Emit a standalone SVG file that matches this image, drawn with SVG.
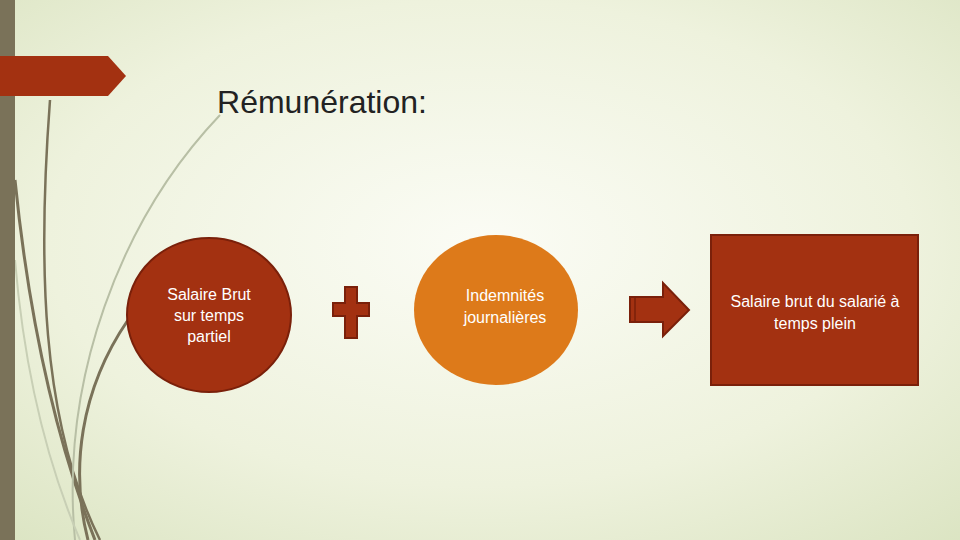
<svg xmlns="http://www.w3.org/2000/svg" width="960" height="540" viewBox="0 0 960 540">
<defs>
<radialGradient id="bg" cx="0.5" cy="0.45" r="0.75">
<stop offset="0" stop-color="#fbfcf5"/><stop offset="0.6" stop-color="#eef2dd"/><stop offset="1" stop-color="#dbe4c2"/>
</radialGradient>
<style>
.red{fill:#a33111;stroke:#7a200a;stroke-width:2}
.t{font-family:"Liberation Sans",Arial,sans-serif;font-size:16px;fill:#fff;text-anchor:middle}
.deco{fill:none;stroke:#7a7259}
</style>
</defs>
<rect width="960" height="540" fill="url(#bg)"/>
<g id="decor">
<path class="deco" stroke-width="2.5" d="M50 100 C38 260 40 420 100 540"/>
<path class="deco" stroke-width="3" d="M15 180 C30 330 60 450 95 540"/>
<path class="deco" stroke-width="3" d="M128 320 C80 390 70 470 88 540"/>
<path fill="none" stroke="#b8bfa5" stroke-width="2" d="M220 115 C120 220 60 380 75 540"/>
<path fill="none" stroke="#c8cfb5" stroke-width="2" d="M15 260 C25 380 50 470 80 540"/>
<rect x="0" y="0" width="15" height="540" fill="#7a7259"/>
<path d="M0 56 H108 L126 76 L108 96 H0 Z" fill="#a33111"/>
</g>
<text x="322" y="113" font-family="'Liberation Sans',Arial,sans-serif" font-size="32" fill="#222" text-anchor="middle">Rémunération:</text>
<g id="n1"><ellipse class="red" cx="209" cy="315" rx="82" ry="77"/>
<text class="t" x="209" y="300">Salaire Brut</text><text class="t" x="209" y="321">sur temps</text><text class="t" x="209" y="342">partiel</text></g>
<g id="plus"><path class="red" d="M345 287 H357 V303 H369 V316 H357 V338 H345 V316 H333 V303 H345 Z"/></g>
<g id="n2"><ellipse cx="496" cy="310" rx="82" ry="75" fill="#dd7a1a"/>
<text class="t" x="505" y="301">Indemnités</text><text class="t" x="505" y="323">journalières</text></g>
<g id="connectors"><path class="red" d="M630 297 H663 V283 L689 310 L663 336 V322 H630 Z"/>
<line x1="635" y1="297" x2="635" y2="322" stroke="#7a200a" stroke-width="1.5"/></g>
<g id="n3"><rect class="red" x="711" y="235" width="207" height="150"/>
<text class="t" x="815" y="307">Salaire brut du salarié à</text><text class="t" x="815" y="329">temps plein</text></g>
</svg>
